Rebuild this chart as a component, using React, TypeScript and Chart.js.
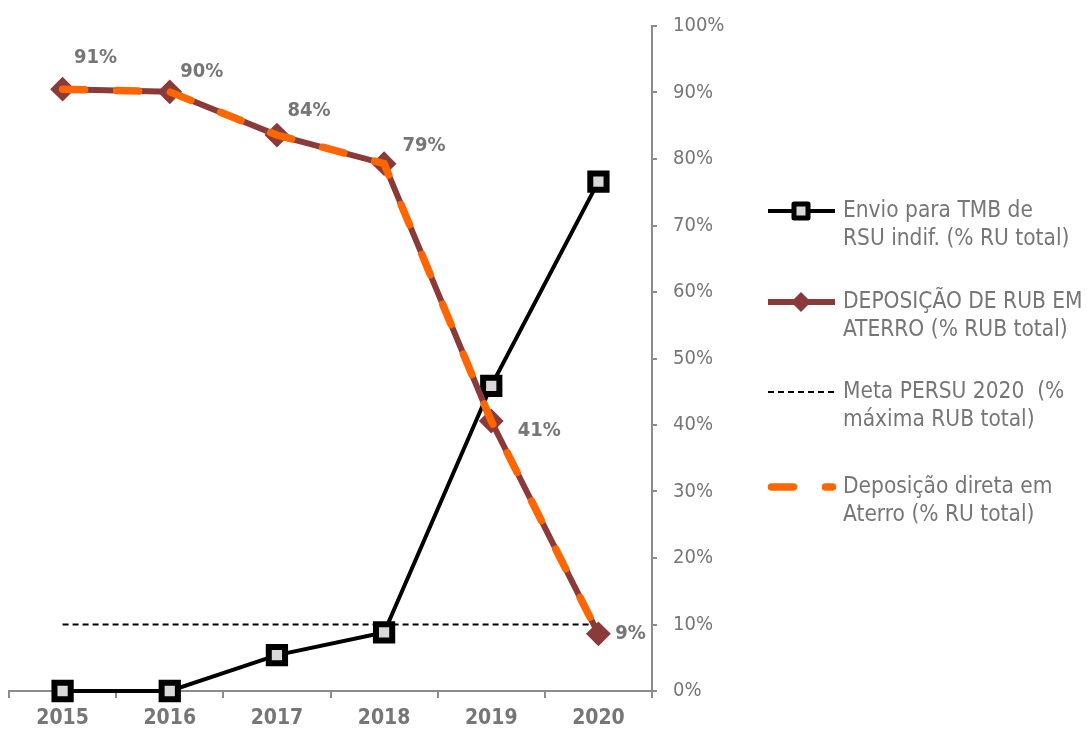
import React, { useEffect, useRef } from 'react';
import { Chart, registerables } from 'chart.js';

Chart.register(...registerables);

const years = ['2015', '2016', '2017', '2018', '2019', '2020'];
const envioTMB = [0, 0, 5.4, 8.8, 45.9, 76.6];
const deposicaoRUB = [90.5, 90.1, 83.6, 79.3, 40.6, 8.6];
const deposicaoDireta = [90.5, 90.1, 83.6, 79.3, 40.6, 8.6];
const metaPERSU = [10, 10, 10, 10, 10, 10];

const legendEnvio = ['Envio para TMB de', 'RSU indif. (% RU total)'];
const legendRUB = ['DEPOSIÇÃO DE RUB EM', 'ATERRO (% RUB total)'];
const legendMeta = ['Meta PERSU 2020  (%', 'máxima RUB total)'];
const legendDireta = ['Deposição direta em', 'Aterro (% RU total)'];

const FONT = '"DejaVu Sans Condensed", "DejaVu Sans", sans-serif';
const GRAY_TEXT = '#767676';
const AXIS_GRAY = '#8c8c8c';
const BLACK = '#000000';
const BROWN = '#8B3A3A';
const ORANGE = '#FF6600';

const labelOffsets = [
  [33, -31],
  [32, -20],
  [32, -24],
  [40, -18],
  [48, 10],
  [32, 0],
];

const dataLabelPlugin = {
  id: 'dataLabels',
  afterDatasetsDraw(chart: any) {
    const meta = chart.getDatasetMeta(1);
    const ctx = chart.ctx;
    ctx.save();
    ctx.font = `bold 20px ${FONT}`;
    ctx.fillStyle = GRAY_TEXT;
    ctx.textAlign = 'center';
    ctx.textBaseline = 'middle';
    meta.data.forEach((pt: any, i: number) => {
      const v = deposicaoRUB[i];
      ctx.fillText(Math.round(v) + '%', pt.x + labelOffsets[i][0], pt.y + labelOffsets[i][1]);
    });
    ctx.restore();
  },
};

const legendPlugin = {
  id: 'sideLegend',
  afterDraw(chart: any) {
    const ctx = chart.ctx;
    const x0 = 768;
    const x1 = 835;
    const xm = 801;
    const tx = 843;
    const lineH = 28;
    ctx.save();

    const drawText = (lines: string[], y: number) => {
      ctx.font = `22.5px ${FONT}`;
      ctx.fillStyle = GRAY_TEXT;
      ctx.textAlign = 'left';
      ctx.textBaseline = 'middle';
      lines.forEach((l, i) => ctx.fillText(l, tx, y + i * lineH));
    };

    // Envio
    let y = 211;
    ctx.strokeStyle = BLACK;
    ctx.lineWidth = 4;
    ctx.beginPath();
    ctx.moveTo(x0, y);
    ctx.lineTo(x1, y);
    ctx.stroke();
    ctx.fillStyle = '#d9d9d9';
    ctx.lineWidth = 5;
    ctx.lineJoin = 'round';
    ctx.beginPath();
    ctx.rect(xm - 7, y - 7, 14, 14);
    ctx.fill();
    ctx.stroke();
    drawText(legendEnvio, y);

    // RUB
    y = 302;
    ctx.strokeStyle = BROWN;
    ctx.lineWidth = 6;
    ctx.beginPath();
    ctx.moveTo(x0, y);
    ctx.lineTo(x1, y);
    ctx.stroke();
    ctx.fillStyle = BROWN;
    ctx.beginPath();
    ctx.moveTo(xm, y - 10);
    ctx.lineTo(xm + 10, y);
    ctx.lineTo(xm, y + 10);
    ctx.lineTo(xm - 10, y);
    ctx.closePath();
    ctx.fill();
    drawText(legendRUB, y);

    // Meta
    y = 392;
    ctx.strokeStyle = BLACK;
    ctx.lineWidth = 2;
    ctx.setLineDash([6, 4]);
    ctx.beginPath();
    ctx.moveTo(x0, y);
    ctx.lineTo(x1, y);
    ctx.stroke();
    ctx.setLineDash([]);
    drawText(legendMeta, y);

    // Direta
    y = 487;
    ctx.strokeStyle = ORANGE;
    ctx.lineWidth = 7.5;
    ctx.lineCap = 'round';
    ctx.setLineDash([22, 32]);
    ctx.beginPath();
    ctx.moveTo(x0 + 3.5, y);
    ctx.lineTo(x1 - 2.5, y);
    ctx.stroke();
    ctx.setLineDash([]);
    ctx.lineCap = 'butt';
    drawText(legendDireta, y);

    ctx.restore();
  },
};

export default function App() {
  const canvasRef = useRef<HTMLCanvasElement | null>(null);

  useEffect(() => {
    if (!canvasRef.current) return;
    const chart = new Chart(canvasRef.current, {
      type: 'line',
      data: {
        labels: years,
        datasets: [
          {
            label: legendEnvio.join(' '),
            data: envioTMB,
            borderColor: BLACK,
            borderWidth: 4,
            pointStyle: 'rect',
            pointRadius: 11.5,
            pointBorderWidth: 6,
            pointBackgroundColor: '#d9d9d9',
            pointBorderColor: BLACK,
            clip: false,
            order: 3,
          },
          {
            label: legendRUB.join(' '),
            data: deposicaoRUB,
            borderColor: BROWN,
            borderWidth: 6,
            pointStyle: 'rectRot',
            pointRadius: 11,
            pointBorderWidth: 2,
            pointBackgroundColor: BROWN,
            pointBorderColor: BROWN,
            clip: false,
            order: 2,
          },
          {
            label: legendMeta.join(' '),
            data: metaPERSU,
            borderColor: BLACK,
            borderWidth: 2,
            borderDash: [6, 4],
            pointRadius: 0,
            order: 4,
          },
          {
            label: legendDireta.join(' '),
            data: deposicaoDireta,
            borderColor: ORANGE,
            borderWidth: 7.5,
            borderDash: [22, 32],
            borderCapStyle: 'round',
            pointRadius: 0,
            clip: false,
            order: 1,
          },
        ],
      },
      options: {
        animation: false,
        responsive: true,
        maintainAspectRatio: false,
        events: [],
        layout: { autoPadding: false, padding: { left: 9, right: 355, top: 24, bottom: 0 } },
        plugins: {
          legend: { display: false },
          tooltip: { enabled: false },
        },
        scales: {
          x: {
            type: 'category',
            offset: true,
            afterFit: (s: any) => {
              s.height = 40;
            },
            grid: {
              drawOnChartArea: false,
              offset: true,
              tickLength: 7,
              color: AXIS_GRAY,
              lineWidth: 2,
            },
            border: { color: AXIS_GRAY, width: 2 },
            ticks: {
              color: GRAY_TEXT,
              font: { family: FONT, size: 21, weight: 'bold', lineHeight: 1 },
              padding: 10,
              maxRotation: 0,
            },
          },
          y: {
            position: 'right',
            min: 0,
            max: 100,
            afterFit: (s: any) => {
              s.width = 80;
            },
            grid: {
              drawOnChartArea: false,
              tickLength: 5,
              color: AXIS_GRAY,
              lineWidth: 2,
            },
            border: { color: AXIS_GRAY, width: 2 },
            ticks: {
              stepSize: 10,
              color: GRAY_TEXT,
              font: { family: FONT, size: 20, lineHeight: 1 },
              padding: 16,
              callback: (v: any) => v + '%',
            },
          },
        },
      },
      plugins: [dataLabelPlugin, legendPlugin],
    });
    return () => chart.destroy();
  }, []);

  return (
    <div style={{ position: 'absolute', left: 0, top: 0, width: 1087, height: 731 }}>
      <canvas ref={canvasRef} />
    </div>
  );
}
